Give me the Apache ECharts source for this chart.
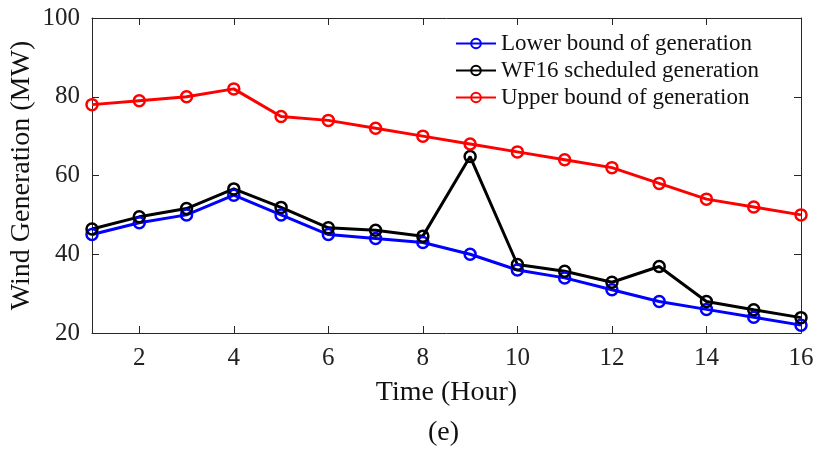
<!DOCTYPE html>
<html>
<head>
<meta charset="utf-8">
<script src="https://cdn.jsdelivr.net/npm/echarts@6/dist/echarts.min.js"></script>
<style>
  html, body { margin: 0; padding: 0; background: #fff; }
  #chart { width: 817px; height: 449px; }
</style>
</head>
<body>
<div id="chart"></div>
<script>
// Hourly wind generation bounds and the WF16 schedule (MW)
const hours = [1, 2, 3, 4, 5, 6, 7, 8, 9, 10, 11, 12, 13, 14, 15, 16];
const lowerBound = [45, 48, 50, 55, 50, 45, 44, 43, 40, 36, 34, 31, 28, 26, 24, 22];
const scheduled = [46.4, 49.5, 51.6, 56.6, 51.9, 46.7, 46.1, 44.6, 64.8, 37.4, 35.7, 32.9, 36.9, 28, 25.9, 23.9];
const upperBound = [78, 79, 80, 82, 75, 74, 72, 70, 68, 66, 64, 62, 58, 54, 52, 50];
const xTicks = [2, 4, 6, 8, 10, 12, 14, 16];

const FONT = '"Liberation Serif", "DejaVu Serif", serif';
const AXIS_COLOR = '#262626';

const pairs = vals => hours.map((h, i) => [h, vals[i]]);

function lineSeries(name, color, vals) {
  return {
    name: name,
    type: 'line',
    data: pairs(vals),
    symbol: 'circle',
    symbolSize: 11,
    showAllSymbol: true,
    lineStyle: { color: color, width: 3 },
    itemStyle: { color: 'rgba(255,255,255,0)', borderColor: color, borderWidth: 2.5 },
    emphasis: { disabled: true },
    z: 3
  };
}

const tickStyle = { inside: true, length: 7, lineStyle: { color: AXIS_COLOR, width: 1 } };
const lineStyleAxis = { show: true, onZero: false, lineStyle: { color: AXIS_COLOR, width: 1 } };

const chart = echarts.init(document.getElementById('chart'), null, { renderer: 'canvas' });
chart.setOption({
  animation: false,
  backgroundColor: '#fff',
  textStyle: { fontFamily: FONT },
  grid: { left: 92, right: 16, top: 18, bottom: 116, containLabel: false, outerBoundsMode: 'none' },
  legend: {
    orient: 'vertical',
    left: 450,
    top: 27,
    itemWidth: 40,
    itemHeight: 12,
    itemGap: 4,
    textStyle: { fontFamily: FONT, fontSize: 23, color: '#111' },
    data: ['Lower bound of generation', 'WF16 scheduled generation', 'Upper bound of generation']
  },
  xAxis: [
    {
      type: 'value', min: 1, max: 16,
      name: 'Time (Hour)', nameLocation: 'middle', nameGap: 46,
      nameTextStyle: { fontFamily: FONT, fontSize: 28, color: '#111' },
      axisLine: lineStyleAxis,
      axisTick: Object.assign({ customValues: xTicks }, tickStyle),
      axisLabel: { customValues: xTicks, fontFamily: FONT, fontSize: 25, color: '#222', margin: 13 },
      splitLine: { show: false }
    },
    {
      type: 'value', min: 1, max: 16, position: 'top',
      axisLine: lineStyleAxis,
      axisTick: Object.assign({ customValues: xTicks }, tickStyle),
      axisLabel: { show: false },
      splitLine: { show: false }
    }
  ],
  yAxis: [
    {
      type: 'value', min: 20, max: 100, interval: 20,
      name: 'Wind Generation (MW)', nameLocation: 'middle', nameGap: 56,
      nameMoveOverlap: false,
      nameTextStyle: { fontFamily: FONT, fontSize: 28, color: '#111' },
      axisLine: lineStyleAxis,
      axisTick: tickStyle,
      axisLabel: { fontFamily: FONT, fontSize: 25, color: '#222', margin: 12 },
      splitLine: { show: false }
    },
    {
      type: 'value', min: 20, max: 100, interval: 20, position: 'right',
      axisLine: lineStyleAxis,
      axisTick: tickStyle,
      axisLabel: { show: false },
      splitLine: { show: false }
    }
  ],
  graphic: [
    {
      type: 'text',
      left: 428, top: 419,
      style: { text: '(e)', font: '28px ' + FONT, fill: '#111' }
    }
  ],
  series: [
    lineSeries('Lower bound of generation', '#0000ff', lowerBound),
    lineSeries('WF16 scheduled generation', '#000000', scheduled),
    lineSeries('Upper bound of generation', '#ff0000', upperBound)
  ]
});
</script>
</body>
</html>
